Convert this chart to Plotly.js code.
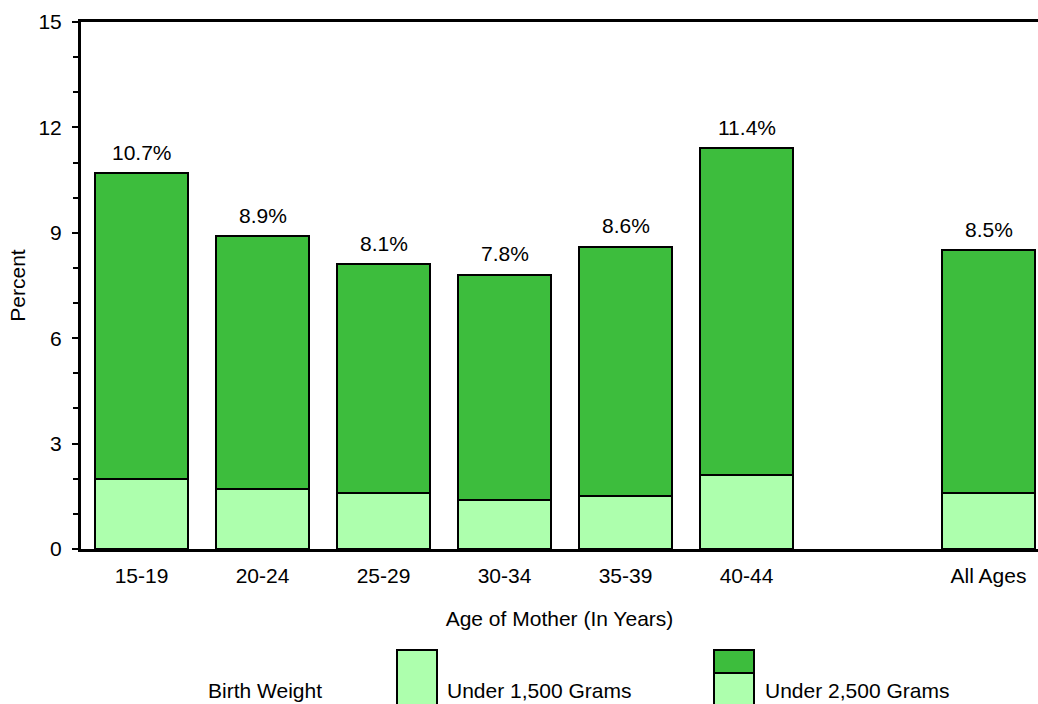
<!DOCTYPE html>
<html>
<head>
<meta charset="utf-8">
<script src="https://cdn.plot.ly/plotly-3.0.1.min.js"></script>
<style>html,body{margin:0;padding:0;background:#fff;}#chart{width:1038px;height:704px;}</style>
</head>
<body>
<div id="chart"></div>
<script>
var categories = ["15-19", "20-24", "25-29", "30-34", "35-39", "40-44", "All Ages"];
var positions = [0, 1, 2, 3, 4, 5, 7];
var under1500 = [2.0, 1.7, 1.6, 1.4, 1.5, 2.1, 1.6];
var under2500 = [10.7, 8.9, 8.1, 7.8, 8.6, 11.4, 8.5];
var labels = under2500.map(function(v){ return v.toFixed(1) + "%"; });
var yTicks = [0, 3, 6, 9, 12, 15];

var dark = "#3dbd3d", light = "#adffad";
var fontFam = "Liberation Sans, Arial, sans-serif";
var FS = 21;

var upper = under2500.map(function(v, i){ return +(v - under1500[i]).toFixed(2); });

var traces = [
  {type: "bar", x: positions, y: under1500, width: 0.77, marker: {color: light, line: {color: "#000", width: 2}}, hoverinfo: "skip", showlegend: false},
  {type: "bar", x: positions, y: upper, width: 0.77, marker: {color: dark, line: {color: "#000", width: 2}}, hoverinfo: "skip", showlegend: false}
];

var annotations = positions.map(function(p, i){
  return {x: p, y: under2500[i], xref: "x", yref: "y", text: labels[i], showarrow: false, yshift: 21, font: {family: fontFam, size: FS, color: "#000"}};
});

var W = 1038, H = 704, L = 81, T = 22, PW = 1038 - 81, PH = 527;
var B = H - T - PH;
function px(x){ return (x - L) / PW; }
function py(y){ return (H - y - B) / PH; }

annotations.push({xref: "paper", yref: "paper", x: px(265), y: py(690), text: "Birth Weight", showarrow: false, xanchor: "center", yanchor: "middle", font: {family: fontFam, size: FS, color: "#000"}});
annotations.push({xref: "paper", yref: "paper", x: px(445), y: py(690), text: "Under 1,500 Grams", showarrow: false, xanchor: "left", yanchor: "middle", font: {family: fontFam, size: FS, color: "#000"}});
annotations.push({xref: "paper", yref: "paper", x: px(763), y: py(690), text: "Under 2,500 Grams", showarrow: false, xanchor: "left", yanchor: "middle", font: {family: fontFam, size: FS, color: "#000"}});

var shapes = [
  {type: "rect", xref: "paper", yref: "paper", x0: px(397), x1: px(437), y0: py(706), y1: py(650), fillcolor: light, line: {color: "#000", width: 2}},
  {type: "rect", xref: "paper", yref: "paper", x0: px(714), x1: px(754), y0: py(673), y1: py(650), fillcolor: dark, line: {color: "#000", width: 2}},
  {type: "rect", xref: "paper", yref: "paper", x0: px(714), x1: px(754), y0: py(706), y1: py(673), fillcolor: light, line: {color: "#000", width: 2}}
];

var layout = {
  width: W, height: H,
  margin: {l: L, r: 0, t: T, b: B},
  paper_bgcolor: "#fff", plot_bgcolor: "#fff",
  barmode: "stack",
  showlegend: false,
  font: {family: fontFam, size: FS, color: "#000"},
  xaxis: {
    range: [-0.5, -0.5 + PW / 121],
    tickvals: positions, ticktext: categories,
    showline: true, linecolor: "#000", linewidth: 3, mirror: true,
    ticks: "", showgrid: false, zeroline: false, fixedrange: true,
    ticklabelstandoff: 6,
    tickfont: {family: fontFam, size: FS, color: "#000"},
    title: {text: "Age of Mother (In Years)", font: {family: fontFam, size: FS, color: "#000"}, standoff: 26}
  },
  yaxis: {
    range: [0, 15],
    tickvals: yTicks,
    showline: true, linecolor: "#000", linewidth: 3,
    ticks: "outside", ticklen: 6, tickwidth: 2, tickcolor: "#000",
    minor: {dtick: 1, ticks: "outside", ticklen: 5, tickwidth: 2, tickcolor: "#000", showgrid: false},
    showgrid: false, zeroline: false, fixedrange: true,
    ticklabelstandoff: 6,
    tickfont: {family: fontFam, size: FS, color: "#000"},
    title: {text: "Percent", font: {family: fontFam, size: FS, color: "#000"}, standoff: 8}
  },
  annotations: annotations,
  shapes: shapes
};

Plotly.newPlot("chart", traces, layout, {staticPlot: true, displayModeBar: false});
</script>
</body>
</html>
